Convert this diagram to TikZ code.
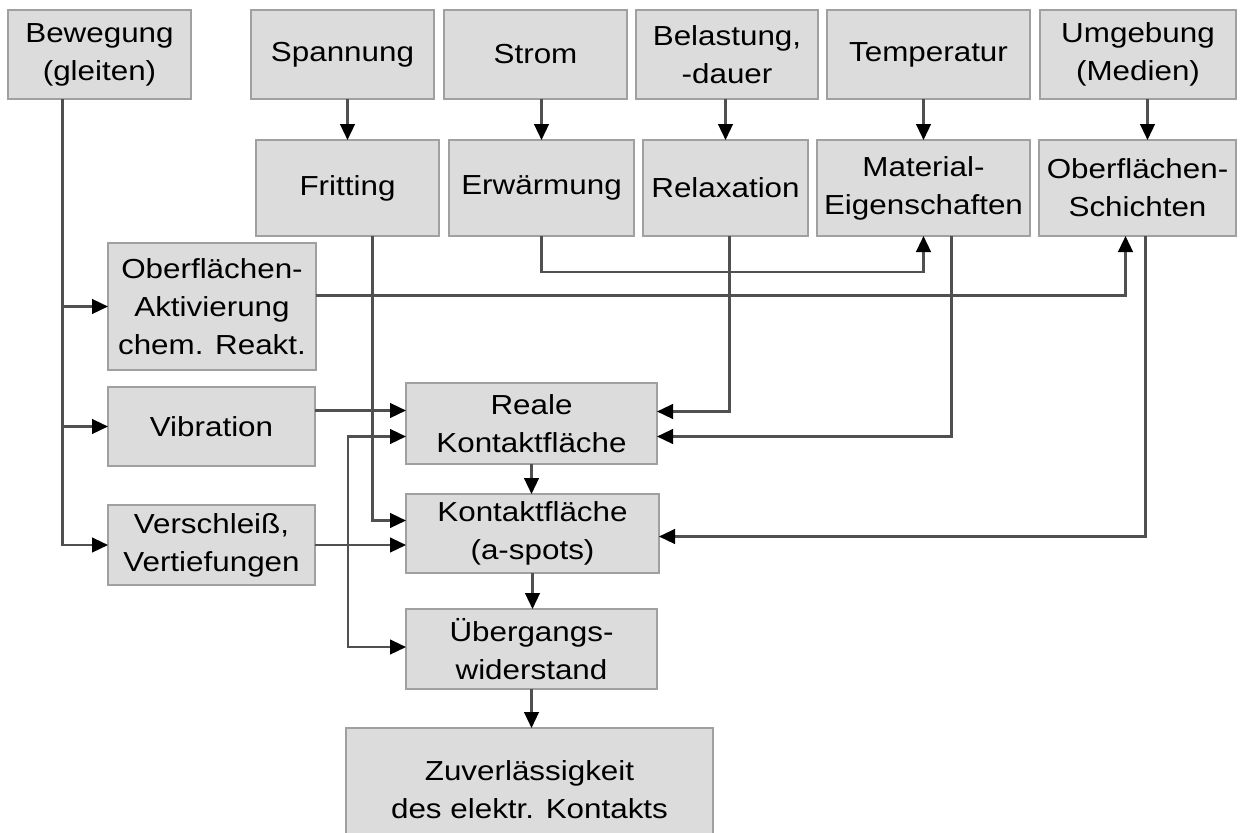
\documentclass[tikz,border=0pt]{standalone}
\usepackage{fontspec}
\setmainfont[FakeStretch=1.14]{Liberation Sans}
\usetikzlibrary{arrows.meta,calc}

\definecolor{boxfill}{RGB}{220,220,220}
\definecolor{boxline}{RGB}{160,160,160}
\definecolor{linkgray}{RGB}{80,80,80}

\tikzset{
  box/.style={draw=boxline, fill=boxfill, line width=1.3pt, inner sep=0pt, outer sep=0pt,
    align=center, font=\fontsize{23.5}{32.5}\selectfont},
  wh/.style 2 args={minimum width=#1*0.03cm, minimum height=#2*0.03cm},
  link/.style={draw=linkgray, line width=2pt},
  tip/.tip={Triangle[length=0.48cm,width=0.44cm,color=black]},
  arr/.style={link, -tip},
  twoway/.style={link, tip-tip}
}

\begin{document}
\begin{tikzpicture}[x=0.03cm,y=-0.03cm]
\useasboundingbox (0,0) rectangle (1243,832);

% influence factors
\node[box, wh={183}{89}] (bew) at (99.5,54.5) {Bewegung\\(gleiten)};
\node[box, wh={183}{89}] (spa) at (342.5,54.5) {Spannung};
\node[box, wh={183}{89}] (str) at (535.5,54.5) {Strom};
\node[box, wh={182}{89}] (bel) at (727,54.5) {Belastung,\\-dauer};
\node[box, wh={203}{89}] (tem) at (928.5,54.5) {Temperatur};
\node[box, wh={196}{89}] (umg) at (1138,54.5) {Umgebung\\(Medien)};

% effects
\node[box, wh={183}{96}] (fri) at (347.5,188) {Fritting};
\node[box, wh={185}{96}] (erw) at (541.5,188) {Erwärmung};
\node[box, wh={165}{96}] (rel) at (725.5,188) {Relaxation};
\node[box, wh={213}{96}] (mat) at (923.5,188) {Material-\\Eigenschaften};
\node[box, wh={197}{96}] (sch) at (1137.5,188) {Oberflächen-\\Schichten};

\node[box, wh={208}{127}] (akt) at (212,306.5) {Oberflächen-\\Aktivierung\\chem. Reakt.};
\node[box, wh={207}{79}] (vib) at (211.5,426.5) {Vibration};
\node[box, wh={207}{80}] (ver) at (211.5,545) {Verschleiß,\\Vertiefungen};

% contact chain
\node[box, wh={251}{81}] (rea) at (531.5,423.5) {Reale\\Kontaktfläche};
\node[box, wh={253}{79}] (kon) at (532.5,533.5) {Kontaktfläche\\(a-spots)};
\node[box, wh={251}{80}] (ueb) at (531.5,649) {Übergangs-\\widerstand};
\node[box, wh={367}{124}] (zuv) at (529.5,790) {Zuverlässigkeit\\des elektr. Kontakts};

% top row down to second row
\foreach \a/\b in {spa/fri,str/erw,bel/rel,tem/mat}
  \draw[arr] (\b.north |- \a.south) -- (\b.north);
\coordinate (sch in) at ($(sch.north)+(10,0)$);
\draw[arr] (sch in |- umg.south) -- (sch in);

% sliding motion
\coordinate (trunk) at ($(bew.south)+(-37,0)$);
\draw[arr] (trunk) |- (ver.west);
\draw[arr] (trunk |- akt.west) -- (akt.west);
\draw[arr] (trunk |- vib.west) -- (vib.west);

% cross links
\draw[arr] (erw.south) |- ($(mat.south)+(0,36)$) -- (mat.south);
\draw[arr] ($(akt.east)+(0,-11)$) -| ($(sch.south)+(-12,0)$);
\draw[arr] ($(rel.south)+(4,0)$) |- ($(rea.east)+(0,-12)$);
\draw[arr] ($(mat.south)+(28,0)$) |- ($(rea.east)+(0,13)$);
\draw[arr] ($(sch.south)+(8,0)$) |- ($(kon.east)+(0,3)$);
\draw[arr] ($(fri.south)+(25,0)$) |- ($(kon.west)+(0,-13)$);

\coordinate (rea in) at ($(rea.west)+(0,-13)$);
\draw[arr] (vib.east |- rea in) -- (rea in);
\draw[arr] (ver.east) -- (ver.east -| kon.west);
\draw[twoway] ($(rea.west)+(0,13)$) -- ++(-58,0) |- ($(ueb.west)+(0,-2)$);

% down the chain
\draw[arr] (rea.south) -- (rea.south |- kon.north);
\draw[arr] (kon.south) -- (kon.south |- ueb.north);
\draw[arr] (ueb.south) -- (ueb.south |- zuv.north);

\end{tikzpicture}
\end{document}
